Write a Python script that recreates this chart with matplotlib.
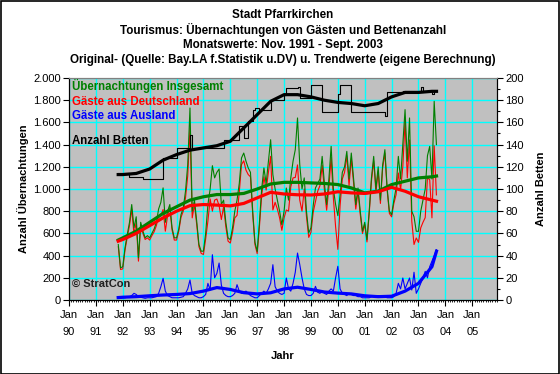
import numpy as np
import matplotlib
matplotlib.use("Agg")
import matplotlib.pyplot as plt
from matplotlib.patches import Rectangle
from matplotlib.ticker import FuncFormatter, MultipleLocator

plt.rcParams['font.family'] = ['Liberation Sans', 'DejaVu Sans']

# Monatswerte Nov. 1991 - Sept. 2003
start_year = 1991
start_month = 11

insgesamt = [
    500, 290,
    300, 470, 590, 700, 860, 650, 750, 380, 700, 620, 560, 580,
    560, 600, 640, 700, 820, 880, 1010, 700, 800, 860, 650, 560,
    560, 640, 770, 830, 980, 1220, 1730, 800, 900, 710, 500, 440,
    440, 600, 860, 1000, 1210, 1100, 1150, 1180, 860, 900, 700, 560,
    543, 650, 800, 900, 1050, 1280, 1324, 1250, 1190, 1150, 800, 520,
    438, 700, 1000, 1190, 1050, 1250, 1444, 1129, 1000, 900, 800, 678,
    800, 1009, 900, 1100, 1250, 1354, 1640, 1219, 1000, 1100, 800, 604,
    650, 850, 1009, 1050, 1090, 1294, 1050, 859, 1090, 1384, 1000, 860,
    760, 950, 1150, 1200, 1339, 1090, 1324, 1100, 859, 1009, 800, 619,
    700, 543, 800, 1100, 1294, 1000, 1200, 900, 1219, 1354, 1009, 800,
    769, 900, 1009, 1294, 1090, 1400, 1715, 1250, 1640, 800, 750, 619,
    619, 800, 900, 1000, 1300, 1384, 1090, 1790, 1400,
]
deutschland = [
    480, 275,
    280, 450, 565, 670, 820, 590, 700, 350, 675, 600, 545, 560,
    540, 580, 615, 670, 760, 760, 815, 620, 760, 830, 630, 540,
    540, 620, 745, 800, 920, 1120, 1550, 740, 860, 680, 480, 420,
    410, 550, 710, 910, 800, 900, 910, 850, 725, 840, 660, 530,
    513, 610, 740, 762, 970, 1220, 1254, 1170, 1130, 1110, 770, 500,
    418, 660, 940, 1110, 990, 1150, 1294, 811, 880, 820, 740, 628,
    740, 811, 800, 1020, 1100, 1104, 1217, 900, 800, 1000, 750, 564,
    610, 790, 886, 980, 1030, 1214, 990, 809, 1010, 1284, 920, 660,
    456, 850, 1090, 1150, 1299, 1030, 1274, 1060, 819, 979, 770, 599,
    680, 523, 780, 1070, 1254, 970, 1160, 870, 1189, 1324, 989, 780,
    749, 870, 949, 1144, 990, 1202, 1615, 1100, 1442, 710, 500, 559,
    519, 650, 700, 742, 1100, 1084, 740, 1390, 947,
]
ausland = [
    20, 15,
    20, 20, 25, 30, 40, 60, 50, 30, 25, 20, 15, 20,
    20, 20, 25, 30, 60, 120, 195, 80, 40, 30, 20, 20,
    20, 20, 25, 30, 60, 100, 180, 60, 40, 30, 20, 20,
    30, 50, 150, 90, 408, 200, 240, 333, 135, 60, 40, 30,
    30, 40, 60, 138, 80, 60, 70, 80, 60, 40, 30, 20,
    20, 40, 60, 80, 60, 100, 150, 318, 120, 80, 60, 50,
    60, 198, 100, 80, 150, 250, 423, 319, 200, 100, 50, 40,
    40, 60, 123, 70, 60, 80, 60, 50, 80, 100, 80, 200,
    304, 100, 60, 50, 40, 60, 50, 40, 40, 30, 30, 20,
    20, 20, 20, 30, 40, 30, 40, 30, 30, 30, 20, 20,
    20, 30, 60, 150, 100, 198, 100, 150, 198, 90, 250, 60,
    100, 150, 200, 258, 200, 300, 350, 400, 453,
]
betten = [
    114, 114,
    114, 114, 114, 111, 111, 111, 111, 111, 111, 109, 109, 109,
    109, 109, 109, 109, 109, 109, 128, 128, 128, 128, 128, 128,
    137, 137, 137, 137, 137, 137, 149, 137, 137, 137, 137, 137,
    137, 137, 137, 137, 137, 137, 137, 137, 137, 144, 144, 144,
    144, 144, 144, 144, 157, 157, 146, 146, 161, 161, 171, 173,
    173, 171, 171, 171, 171, 171, 180, 180, 180, 180, 180, 180,
    185, 191, 191, 191, 191, 191, 192, 182, 182, 182, 182, 182,
    194, 194, 194, 194, 194, 169, 169, 169, 169, 169, 169, 169,
    186, 194, 194, 194, 194, 194, 169, 169, 169, 169, 169, 169,
    169, 169, 169, 169, 169, 169, 169, 169, 169, 166, 187, 187,
    187, 187, 187, 187, 187, 188, 188, 188, 188, 188, 188, 188,
    188, 192, 188, 188, 188, 188, 186, 188, 188,
]

trend_zeit = [1991.83, 1992.0, 1992.5, 1993.0, 1993.5, 1994.0, 1994.5, 1995.0,
              1995.5, 1996.0, 1996.5, 1997.0, 1997.5, 1998.0, 1998.5, 1999.0,
              1999.5, 2000.0, 2000.5, 2001.0, 2001.5, 2002.0, 2002.5, 2003.0,
              2003.5, 2003.67]
trend_insgesamt = [540, 560, 620, 700, 780, 840, 900, 930, 950, 950, 960, 1000,
                   1045, 1060, 1060, 1055, 1050, 1040, 1010, 965, 980, 1040,
                   1070, 1100, 1110, 1117]
trend_deutschland = [530, 545, 600, 670, 740, 800, 850, 860, 855, 848, 870, 920,
                     970, 955, 948, 946, 955, 975, 965, 960, 975, 1015, 980,
                     930, 900, 890]
trend_ausland = [22, 25, 30, 38, 45, 50, 58, 80, 112, 95, 66, 55, 65, 100, 115,
                 95, 72, 62, 55, 38, 30, 34, 80, 150, 300, 440]
trend_betten = [113, 113, 114, 118, 126, 131, 135, 137, 139, 143, 155, 167, 179,
                185, 185, 183, 180, 178, 177, 175, 177, 183, 187, 187, 188, 188]

jahre = list(range(1990, 2006))
jahr_labels = ["Jan\n%02d" % (j % 100) for j in jahre]

# Zeitachse in Jahren
n = len(insgesamt)
zeit = start_year + (start_month - 1) / 12 + np.arange(n) / 12

GREEN = '#008000'
RED = '#FF0000'
BLUE = '#0000FF'
GRID = '#00FFFF'

fig = plt.figure(figsize=(5.6, 3.74), dpi=100)
fig.patches.append(Rectangle((0.001, 0.001), 0.997, 0.997, transform=fig.transFigure,
                             fill=False, edgecolor='black', linewidth=1.2))

ax = fig.add_axes([69 / 560, 1 - 300 / 374, 428 / 560, 222 / 374])
ax.set_facecolor('#C0C0C0')
ax2 = ax.twinx()

# Originalwerte
ax.plot(zeit, deutschland, color=RED, linewidth=0.8, zorder=3)
ax.plot(zeit, insgesamt, color=GREEN, linewidth=0.8, zorder=3)
ax.plot(zeit, ausland, color=BLUE, linewidth=0.8, zorder=3)

# Trends
ax.plot(trend_zeit, trend_insgesamt, color=GREEN, linewidth=2.3, zorder=4)
ax.plot(trend_zeit, trend_deutschland, color=RED, linewidth=2.3, zorder=4)
ax.plot(trend_zeit, trend_ausland, color=BLUE, linewidth=2.3, zorder=4)

ax2.plot(zeit, betten, color='black', linewidth=0.8, drawstyle='steps-post')
ax2.plot(trend_zeit, trend_betten, color='black', linewidth=2.3)

ax.set_xlim(1990, 2005.92)
ax.set_ylim(0, 2000)
ax2.set_ylim(0, 200)

ax.set_xticks(jahre)
ax.set_xticklabels(jahr_labels, linespacing=1.9)
ax.xaxis.set_minor_locator(MultipleLocator(1 / 12))
ax.yaxis.set_major_locator(MultipleLocator(200))
ax.yaxis.set_major_formatter(FuncFormatter(lambda v, p: f"{v:,.0f}".replace(",", ".")))
ax2.yaxis.set_major_locator(MultipleLocator(20))
ax2.yaxis.set_minor_locator(MultipleLocator(10))

ax.grid(True, which='major', color=GRID, linewidth=1.0)
ax.set_axisbelow(True)

ax.tick_params(axis='x', which='major', length=4, width=0.8, labelsize=8, pad=3)
ax.tick_params(axis='x', which='minor', length=1.5, width=0.6)
ax.tick_params(axis='y', length=4, width=0.8, labelsize=8, pad=2)
ax2.tick_params(axis='y', which='major', length=4, width=0.8, labelsize=8, pad=2)
ax2.tick_params(axis='y', which='minor', length=2, width=0.8)

for a in (ax, ax2):
    a.spines['top'].set_color('#808080')
    a.spines['bottom'].set_color('black')
    a.spines['left'].set_color('black')
    a.spines['right'].set_color('black')

ax.set_ylabel('Anzahl Übernachtungen', fontsize=8, fontweight='bold', labelpad=3)
ax2.set_ylabel('Anzahl Betten', fontsize=8, fontweight='bold', labelpad=9)
ax.set_xlabel('Jahr', fontsize=8, fontweight='bold', labelpad=10)

titel = ["Stadt Pfarrkirchen",
         "Tourismus: Übernachtungen von Gästen und Bettenanzahl",
         "Monatswerte: Nov. 1991 - Sept. 2003",
         "Original- (Quelle: Bay.LA f.Statistik u.DV) u. Trendwerte (eigene Berechnung)"]
for i, t in enumerate(titel):
    fig.text(0.505, 1 - (15 + 15 * i) / 374, t, ha='center', va='center',
             fontsize=8.4, fontweight='bold')

legende = [("Übernachtungen Insgesamt", GREEN, 86),
           ("Gäste aus Deutschland", RED, 102),
           ("Gäste aus Ausland", BLUE, 116),
           ("Anzahl Betten", 'black', 141)]
for t, c, y in legende:
    fig.text(72 / 560, 1 - y / 374, t, color=c, ha='left', va='center',
             fontsize=8.3, fontweight='bold', zorder=10)

fig.text(72 / 560, 1 - 284 / 374, "© StratCon", color='#202020', ha='left',
         va='center', fontsize=8, fontweight='bold')

fig.savefig('out.png', dpi=100)
